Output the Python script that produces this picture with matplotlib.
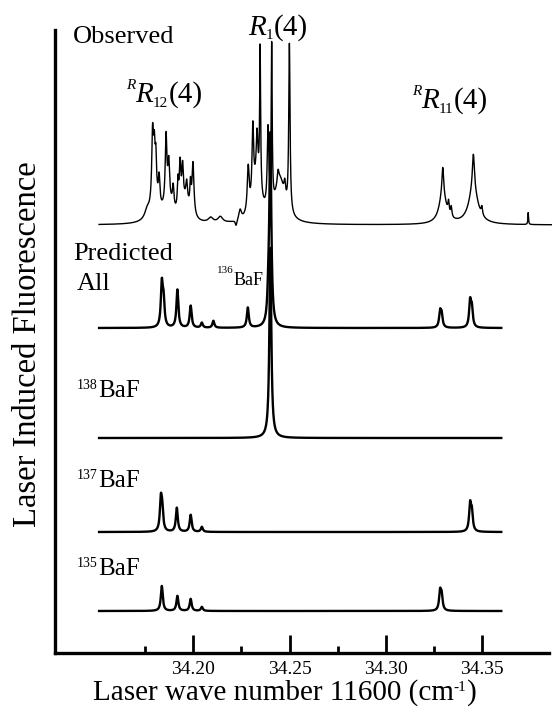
import numpy as np
import matplotlib
matplotlib.use("Agg")
import matplotlib.pyplot as plt

plt.rcParams['font.family'] = ['Liberation Serif', 'DejaVu Serif']

# observed spectrum: peak position (cm-1 - 11600), height, half width
obs_pos = [34.1800, 34.1870, 34.1960, 34.2330, 34.2450, 34.3296, 34.3455,
           34.1760, 34.1788, 34.1797, 34.1805, 34.1822, 34.1858, 34.1872, 34.1895,
           34.1920, 34.1931, 34.1944, 34.1965, 34.1985, 34.1998, 34.2090, 34.2140,
           34.2222, 34.2243, 34.2285, 34.2309, 34.2331, 34.2347, 34.2388, 34.2407,
           34.2440, 34.2475, 34.2499, 34.3296, 34.3326, 34.3340, 34.3455, 34.3499,
           34.3740]
obs_h = [22, 20, 20, 40, 42, 30, 36,
         8, 66, 45, 35, 28, 66, 35, 22,
         28, 45, 38, 18, 25, 52, 5, 6,
         -6, 10, 45, 72, 44, 143, 80, 160,
         12, 15, 168, 26, 12, 10, 34, 8,
         12]
obs_w = [0.0025, 0.0025, 0.0025, 0.0025, 0.0030, 0.0022, 0.0028,
         0.0015, 0.0005, 0.0005, 0.0004, 0.0005, 0.0005, 0.0005, 0.0005,
         0.0004, 0.0005, 0.0005, 0.0005, 0.0004, 0.0006, 0.0015, 0.0015,
         0.0005, 0.0008, 0.0006, 0.0005, 0.0005, 0.0003, 0.0005, 0.0003,
         0.0005, 0.0005, 0.0004, 0.0005, 0.0004, 0.0004, 0.0006, 0.0004,
         0.0002]

# predicted spectra
all_pos = [34.1836, 34.1845, 34.1917, 34.1986, 34.2044, 34.2104, 34.2283, 34.2390,
           34.2400, 34.3282, 34.3290, 34.3438, 34.3447]
all_h = [42, 25, 38, 22, 5, 7, 20, 22, 190, 15, 12, 25, 18]

ba138_pos = [34.2400]
ba138_h = [190]

ba137_pos = [34.1831, 34.1838, 34.1914, 34.1986, 34.2044, 34.3438, 34.3447]
ba137_h = [30, 20, 24, 17, 5, 26, 18]

ba135_pos = [34.1836, 34.1917, 34.1986, 34.2044, 34.3282, 34.3290]
ba135_h = [25, 15, 12, 4, 18, 14]

# vertical offsets of the stacked traces
offsets = {'obs': 428, 'all': 325, '138': 215, '137': 121, '135': 42}


def lorentz(x, pos, h, w):
    y = np.zeros_like(x)
    for p, a, g in zip(pos, h, w):
        y += a * g**2 / ((x - p)**2 + g**2)
    return y


fig = plt.figure(figsize=(5.52, 7.07), dpi=100)
ax = fig.add_axes([55/552, 54/707, 494/552, 623/707])

x_obs = np.linspace(34.151, 34.386, 4000)
ax.plot(x_obs, offsets['obs'] + lorentz(x_obs, obs_pos, obs_h, obs_w),
        color='black', lw=1.0, clip_on=False)

x_pred = np.linspace(34.151, 34.360, 4000)
gam = 0.0006
for key, pos, h in [('all', all_pos, all_h), ('138', ba138_pos, ba138_h),
                    ('137', ba137_pos, ba137_h), ('135', ba135_pos, ba135_h)]:
    ax.plot(x_pred, offsets[key] + lorentz(x_pred, pos, h, [gam]*len(pos)),
            color='black', lw=1.7)

ax.set_xlim(34.1281, 34.3848)
ax.set_ylim(0, 623)
for s in ['top', 'right']:
    ax.spines[s].set_visible(False)
ax.spines['left'].set_linewidth(2.4)
ax.spines['bottom'].set_linewidth(2.4)
ax.set_yticks([])
ax.set_xticks([34.20, 34.25, 34.30, 34.35])
ax.set_xticklabels(['34.20', '34.25', '34.30', '34.35'], fontsize=14)
ax.set_xticks([34.175, 34.225, 34.275, 34.325], minor=True)
ax.tick_params(axis='x', which='major', direction='in', length=13, width=2, pad=6)
ax.tick_params(axis='x', which='minor', direction='in', length=5, width=2)

renderer = fig.canvas.get_renderer()


def chain(x, y, pieces):
    # pieces: (text, fontsize, vertical shift in px, italic?)
    for s, size, dy, it in pieces:
        t = fig.text(x/552, 1 - (y + dy)/707, s, fontsize=size, va='baseline',
                     style='italic' if it else 'normal')
        x = t.get_window_extent(renderer).x1


chain(73, 43, [('Observed', 19, 0, False)])
chain(248, 35, [('R', 21, 0, True), ('1', 11, 4, False), ('(4)', 21, 0, False)])
chain(126, 102, [('R', 11, -13, True), ('R', 21, 0, True), ('12', 11, 5, False),
                 ('(4)', 21, 0, False)])
chain(412, 108, [('R', 11, -13, True), ('R', 21, 0, True), ('11', 11, 5, False),
                 ('(4)', 21, 0, False)])
chain(73, 260, [('Predicted', 19, 0, False)])
chain(77, 290, [('All', 19, 0, False)])
chain(217, 285, [('136', 8, -12, False), ('BaF', 13, 0, False)])
chain(77, 397, [('138', 10, -8, False), ('BaF', 18, 0, False)])
chain(77, 487, [('137', 10, -8, False), ('BaF', 18, 0, False)])
chain(77, 575, [('135', 10, -8, False), ('BaF', 18, 0, False)])

chain(93, 700, [('Laser wave number 11600 (cm', 21, 0, False), ('-1', 11, -9, False),
                (')', 21, 0, False)])
fig.text(28/552, 1 - 344/707, 'Laser Induced Fluorescence', fontsize=23.5,
         rotation=90, ha='center', va='center')

fig.savefig('out.png', dpi=100)
